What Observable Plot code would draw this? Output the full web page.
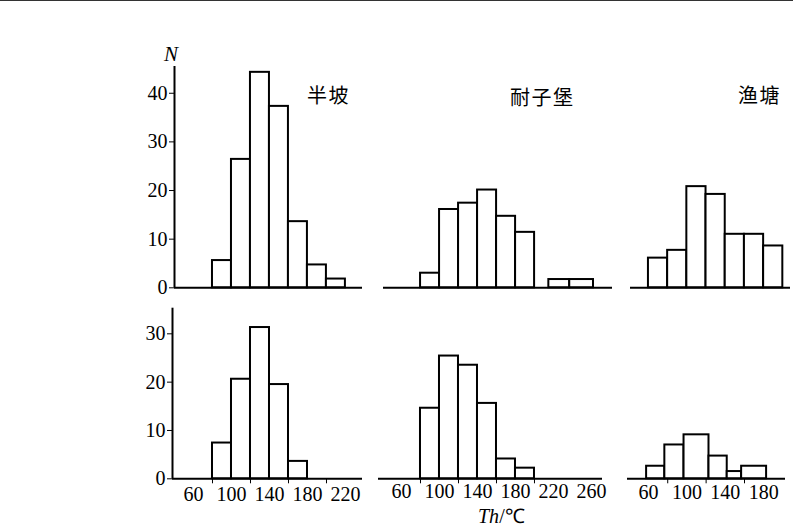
<!DOCTYPE html>
<html><head><meta charset="utf-8">
<script src="https://cdn.jsdelivr.net/npm/d3@7"></script>
<script src="https://cdn.jsdelivr.net/npm/@observablehq/plot@0.6"></script>
<style>
body{margin:0;background:#fff;}
#chart{position:relative;width:793px;height:530px;overflow:hidden;background:#fff;}
#chart svg{position:absolute;left:0;top:0;}
.lbl{position:absolute;white-space:nowrap;line-height:1;color:#000;}
.cn{font-family:"Noto Sans CJK SC",sans-serif;font-size:20px;letter-spacing:1.5px;}
.sf{font-family:"Liberation Serif","Times New Roman",serif;}
#topline{position:absolute;left:0;top:0;width:793px;height:1px;background:#333;}
</style></head><body><div id="chart"><div id="topline"></div></div>
<script>
// ---- data ----
const sites = ["半坡", "耐子堡", "渔塘"];
const yLabel = "N";
const xLabel = ["Th", "/℃"];

// top row
const banpoTopLo = [80, 100, 120, 140, 160, 180, 200];
const banpoTopHi = [100, 120, 140, 160, 180, 200, 220];
const banpoTopN  = [5.6, 26.4, 44.3, 37.3, 13.6, 4.7, 1.8];

const naiziTopLo = [80, 100, 120, 140, 160, 180, 215, 237];
const naiziTopHi = [100, 120, 140, 160, 180, 200, 237, 262];
const naiziTopN  = [3.0, 16.1, 17.4, 20.1, 14.7, 11.4, 1.7, 1.7];

const yutangTopLo = [60, 80, 100, 120, 140, 160, 180];
const yutangTopHi = [80, 100, 120, 140, 160, 180, 200];
const yutangTopN  = [6.1, 7.7, 20.8, 19.2, 11.0, 11.0, 8.6];

// bottom row
const banpoBotLo = [80, 100, 120, 140, 160];
const banpoBotHi = [100, 120, 140, 160, 180];
const banpoBotN  = [7.4, 20.6, 31.3, 19.5, 3.6];

const naiziBotLo = [80, 100, 120, 140, 160, 180];
const naiziBotHi = [100, 120, 140, 160, 180, 200];
const naiziBotN  = [14.6, 25.4, 23.5, 15.6, 4.1, 2.2];

const yutangBotLo = [58, 77, 97, 123, 142, 157];
const yutangBotHi = [77, 97, 123, 142, 157, 183];
const yutangBotN  = [2.6, 7.0, 9.1, 4.7, 1.5, 2.6];

// ticks
const yTicksTop = [0, 10, 20, 30, 40];
const yTicksBot = [0, 10, 20, 30];
const xLabelsLeft  = [60, 100, 140, 180, 220];
const xLabelsMid   = [60, 100, 140, 180, 220, 260];
const xLabelsRight = [60, 100, 140, 180];
const xMarksLeft  = [80, 120, 160, 200];
const xMarksMid   = [80, 120, 160, 200];
const xMarksRight = [80, 120, 160];

const serif = "'Liberation Serif', 'Times New Roman', serif";

function panel(o) {
  const data = o.n.map((v, i) => ({lo: o.lo[i], hi: o.hi[i], n: v}));
  const marks = [];
  if (o.yTicks) marks.push(Plot.ruleX([o.xDomain[0]], {stroke: "black", strokeWidth: 2}));
  marks.push(Plot.rectY(data, {x1: "lo", x2: "hi", y: "n", fill: "white", stroke: "black", strokeWidth: 2}));
  marks.push(Plot.ruleY([0], {stroke: "black", strokeWidth: 2}));
  if (o.xLabels) marks.push(Plot.text(o.xLabels, {x: d => d, y: 0, dy: o.labelDy, text: d => String(d), fontSize: 20, fontFamily: serif, fill: "black"}));
  return Plot.plot({
    width: 793, height: 530,
    marginLeft: o.xPx[0], marginRight: 793 - o.xPx[1],
    marginTop: o.yPx[0], marginBottom: 530 - o.yPx[1],
    x: Object.assign({domain: o.xDomain, label: null},
      o.xMarks ? {ticks: o.xMarks, tickFormat: () => "", tickSize: 5} : {axis: null}),
    y: Object.assign({domain: o.yDomain, label: null},
      o.yTicks ? {ticks: o.yTicks, tickSize: 5, tickPadding: 2} : {axis: null}),
    style: {background: "transparent", fontFamily: serif, fontSize: "20px", color: "black", overflow: "visible"},
    marks
  });
}

const chart = document.getElementById("chart");
const topY = {yDomain: [0, 45.5], yPx: [66, 287.3]};
const botY = {yDomain: [0, 35.3], yPx: [307.7, 478.3]};

const panels = [
  Object.assign({lo: banpoTopLo, hi: banpoTopHi, n: banpoTopN, xDomain: [40, 238], xPx: [174, 362], yTicks: yTicksTop}, topY),
  Object.assign({lo: naiziTopLo, hi: naiziTopHi, n: naiziTopN, xDomain: [41, 282], xPx: [383, 612]}, topY),
  Object.assign({lo: yutangTopLo, hi: yutangTopHi, n: yutangTopN, xDomain: [41.3, 208], xPx: [630, 790]}, topY),
  Object.assign({lo: banpoBotLo, hi: banpoBotHi, n: banpoBotN, xDomain: [37.9, 237.9], xPx: [172, 362], yTicks: yTicksBot, xMarks: xMarksLeft, xLabels: xLabelsLeft, labelDy: 16}, botY),
  Object.assign({lo: naiziBotLo, hi: naiziBotHi, n: naiziBotN, xDomain: [35.8, 271.6], xPx: [378, 602], xMarks: xMarksMid, xLabels: xLabelsMid, labelDy: 13}, botY),
  Object.assign({lo: yutangBotLo, hi: yutangBotHi, n: yutangBotN, xDomain: [38.1, 202.7], xPx: [627, 785], xMarks: xMarksRight, xLabels: xLabelsRight, labelDy: 14}, botY)
];
for (const p of panels) chart.appendChild(panel(p));

function label(text, cls, left, top, size, extra) {
  const d = document.createElement("div");
  d.className = "lbl " + cls;
  d.style.left = left + "px";
  d.style.top = top + "px";
  if (size) d.style.fontSize = size + "px";
  if (extra) d.innerHTML = extra; else d.textContent = text;
  chart.appendChild(d);
}
label(sites[0], "cn", 307, 85);
label(sites[1], "cn", 510, 87);
label(sites[2], "cn", 738, 85);
label(yLabel, "sf", 164, 44, 21, "<i>" + yLabel + "</i>");
label("", "sf", 478, 506, 20, "<i>" + xLabel[0] + "</i>" + xLabel[1]);
</script>
</body></html>
